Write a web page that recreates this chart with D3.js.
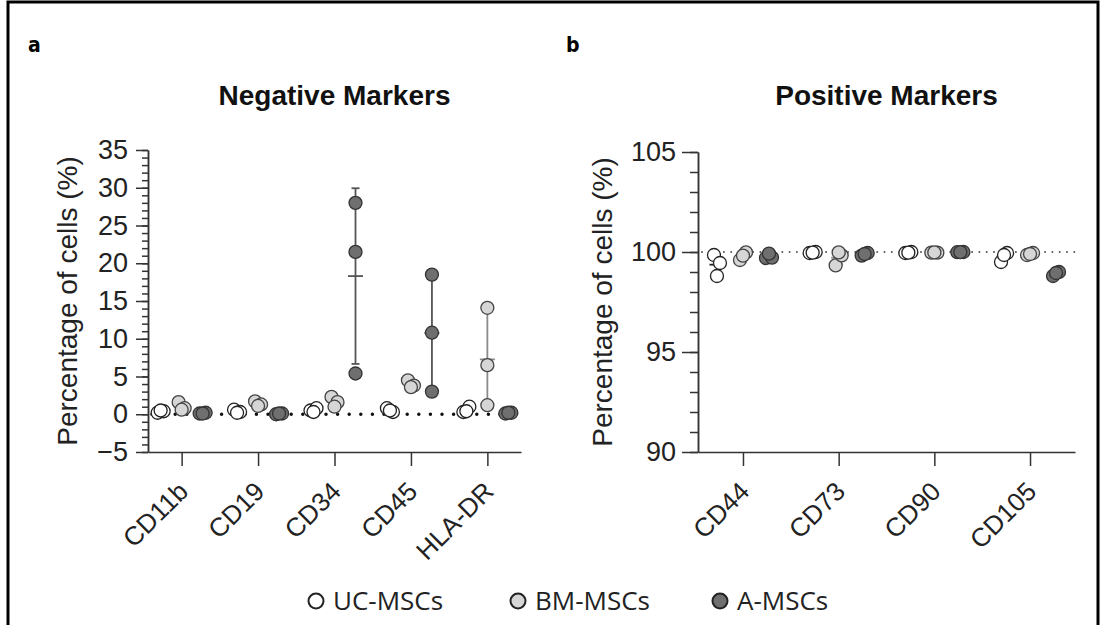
<!DOCTYPE html>
<html>
<head>
<meta charset="utf-8">
<script src="https://cdn.jsdelivr.net/npm/d3@7"></script>
<style>
  body { margin: 0; background: #fff; }
  svg { display: block; }
</style>
</head>
<body>
<script>
const width = 1101,
  height = 625;

// categories
const negMarkers = ['CD11b', 'CD19', 'CD34', 'CD45', 'HLA-DR'];
const posMarkers = ['CD44', 'CD73', 'CD90', 'CD105'];
const groups = ['UC-MSCs', 'BM-MSCs', 'A-MSCs'];

// negative markers, % of cells, 3 donors per group
const negUC = [[0.2, 0.4, 0.5], [0.6, 0.3, 0.2], [0.5, 0.8, 0.3], [0.8, 0.3, 0.5], [0.3, 1.0, 0.4]];
const negBM = [[1.6, 0.8, 0.6], [1.7, 1.3, 1.1], [2.3, 1.6, 1.0], [4.5, 3.8, 3.6], [14.1, 6.5, 1.2]];
const negA = [[0.1, 0.2, 0.1], [0.0, 0.1, 0.1], [28.0, 21.5, 5.4], [18.5, 10.8, 3.0], [0.1, 0.2, 0.2]];

// positive markers, % of cells
const posUC = [[99.85, 99.45, 98.8], [99.95, 100.0, 99.97], [99.95, 100.0, 99.97], [99.5, 99.95, 99.85]];
const posBM = [[99.6, 99.98, 99.82], [99.33, 99.83, 99.98], [99.97, 99.97, 99.98], [99.85, 99.95, 99.9]];
const posA = [[99.7, 99.72, 99.92], [99.82, 99.95, 99.9], [99.99, 100.0, 99.99], [98.8, 99.0, 98.95]];

const negTicks = [-5, 0, 5, 10, 15, 20, 25, 30, 35];
const posTicks = [90, 95, 100, 105];

const fills = ['#ffffff', '#d6d6d6', '#6f6f6f'];
const strokes = ['#222', '#444', '#333'];
const barColors = ['#222', '#8a8a8a', '#555'];
const jitter = [-3, 3, 0];

const svg = d3.select('body').append('svg')
  .attr('width', width)
  .attr('height', height);

// frame
svg.append('path')
  .attr('d', `M8,${height} V2 H1098 V${height}`)
  .attr('fill', 'none')
  .attr('stroke', '#000')
  .attr('stroke-width', 3);

svg.append('text').attr('x', 28).attr('y', 52).text('a')
  .attr('font-family', 'Liberation Sans Narrow, DejaVu Sans Condensed, sans-serif')
  .attr('font-weight', 'bold').attr('font-size', 21);
svg.append('text').attr('x', 566).attr('y', 52).text('b')
  .attr('font-family', 'Liberation Sans Narrow, DejaVu Sans Condensed, sans-serif')
  .attr('font-weight', 'bold').attr('font-size', 21);

function panel(opt) {
  const x = d3.scalePoint()
    .domain(opt.markers)
    .range(opt.xRange)
    .padding(opt.pad);
  const sub = d3.scalePoint()
    .domain(groups)
    .range([-opt.spread, opt.spread]);
  const y = d3.scaleLinear()
    .domain(opt.yDomain)
    .range(opt.yRange);

  const g = svg.append('g');

  g.append('text')
    .attr('x', (opt.xRange[0] + opt.xRange[1]) / 2)
    .attr('y', 105)
    .attr('text-anchor', 'middle')
    .attr('font-family', 'Liberation Sans, Arial, sans-serif')
    .attr('font-weight', 'bold')
    .attr('font-size', 28)
    .attr('fill', '#111')
    .text(opt.title);

  // minor ticks
  g.append('g')
    .attr('transform', `translate(${opt.xRange[0]},0)`)
    .call(d3.axisLeft(y).tickValues(d3.range(opt.yDomain[0], opt.yDomain[1] + 1, 1))
      .tickSize(opt.minor).tickSizeOuter(0).tickFormat(''))
    .call(a => a.selectAll('line,path').attr('stroke', '#333').attr('stroke-width', 1.5));

  // major ticks
  g.append('g')
    .attr('transform', `translate(${opt.xRange[0]},0)`)
    .call(d3.axisLeft(y).tickValues(opt.ticks).tickSize(opt.major).tickSizeOuter(0).tickPadding(opt.tpad))
    .call(a => a.selectAll('line,path').attr('stroke', '#333').attr('stroke-width', 1.5))
    .call(a => a.selectAll('text')
      .attr('font-family', 'Liberation Sans, Arial, sans-serif')
      .attr('font-size', 27)
      .attr('fill', '#222'));

  g.append('text')
    .attr('transform', `translate(${opt.labelX},${(opt.yRange[0] + opt.yRange[1]) / 2}) rotate(-90)`)
    .attr('text-anchor', 'middle')
    .attr('font-family', 'Liberation Sans, Arial, sans-serif')
    .attr('font-size', 28)
    .attr('fill', '#222')
    .text('Percentage of cells (%)');

  // x axis
  g.append('g')
    .attr('transform', `translate(0,${opt.yRange[0]})`)
    .call(d3.axisBottom(x).tickSize(14).tickSizeOuter(0).tickFormat(''))
    .call(a => a.selectAll('line,path').attr('stroke', '#333').attr('stroke-width', 1.5));

  g.selectAll('.xl')
    .data(opt.markers)
    .enter().append('text')
    .attr('transform', d => `translate(${x(d) + 8},${opt.yRange[0] + 41}) rotate(-45)`)
    .attr('text-anchor', 'end')
    .attr('font-family', 'Liberation Sans, Arial, sans-serif')
    .attr('font-size', 26)
    .attr('fill', '#222')
    .text(d => d);

  // reference line
  g.append('line')
    .attr('x1', opt.xRange[0] + 4)
    .attr('x2', opt.xRange[1])
    .attr('y1', y(opt.refValue))
    .attr('y2', y(opt.refValue))
    .attr('stroke', opt.refColor)
    .attr('stroke-width', opt.refWidth)
    .attr('stroke-linecap', 'round')
    .attr('stroke-dasharray', opt.refDash);

  opt.series.forEach((vals, gi) => {
    const grp = groups[gi];
    const stats = vals.map((v, i) => {
      const m = d3.mean(v), s = d3.deviation(v);
      return { cx: x(opt.markers[i]) + sub(grp), m, lo: m - s, hi: m + s };
    });

    const eb = g.append('g')
      .attr('stroke', barColors[gi])
      .attr('stroke-width', 1.8);
    eb.selectAll('.v').data(stats).enter().append('line')
      .attr('x1', d => d.cx).attr('x2', d => d.cx)
      .attr('y1', d => y(d.lo)).attr('y2', d => y(d.hi));
    eb.selectAll('.m').data(stats).enter().append('line')
      .attr('x1', d => d.cx - 7.5).attr('x2', d => d.cx + 7.5)
      .attr('y1', d => y(d.m)).attr('y2', d => y(d.m));
    eb.selectAll('.ch').data(stats).enter().append('line')
      .attr('x1', d => d.cx - 4).attr('x2', d => d.cx + 4)
      .attr('y1', d => y(d.hi)).attr('y2', d => y(d.hi));
    eb.selectAll('.cl').data(stats).enter().append('line')
      .attr('x1', d => d.cx - 4).attr('x2', d => d.cx + 4)
      .attr('y1', d => y(d.lo)).attr('y2', d => y(d.lo));
  });

  opt.series.forEach((vals, gi) => {
    const grp = groups[gi];
    const pts = [];
    vals.forEach((v, i) => v.forEach((val, k) => {
      // spread only points that would sit on top of each other
      const crowded = v.some((o, j) => j !== k && Math.abs(y(o) - y(val)) < 13);
      pts.push({ m: opt.markers[i], val, dx: crowded ? jitter[k] : 0 });
    }));
    g.append('g').selectAll('circle')
      .data(pts)
      .enter().append('circle')
      .attr('cx', d => x(d.m) + sub(grp) + d.dx)
      .attr('cy', d => y(d.val))
      .attr('r', 6.5)
      .attr('fill', fills[gi])
      .attr('stroke', strokes[gi])
      .attr('stroke-width', 1.3);
  });
}

panel({
  title: 'Negative Markers',
  markers: negMarkers,
  series: [negUC, negBM, negA],
  xRange: [148, 521],
  pad: 0.44,
  spread: 21,
  yDomain: [-5, 35],
  yRange: [452, 150],
  ticks: negTicks,
  major: 12,
  minor: 6,
  tpad: 8,
  labelX: 77,
  refValue: 0,
  refColor: '#111',
  refWidth: 3.5,
  refDash: '0,11.6'
});

panel({
  title: 'Positive Markers',
  markers: posMarkers,
  series: [posUC, posBM, posA],
  xRange: [698, 1075],
  pad: 0.47,
  spread: 26,
  yDomain: [90, 105],
  yRange: [452, 152],
  ticks: posTicks,
  major: 16,
  minor: 8,
  tpad: 6,
  labelX: 612,
  refValue: 100,
  refColor: '#555',
  refWidth: 2,
  refDash: '0,7.3'
});

// legend
const legX = [316, 518, 720];
const leg = svg.append('g')
  .selectAll('g')
  .data(groups)
  .enter().append('g')
  .attr('transform', (d, i) => `translate(${legX[i]},601)`);
leg.append('circle')
  .attr('r', 7.5)
  .attr('fill', (d, i) => fills[i])
  .attr('stroke', '#222')
  .attr('stroke-width', 2);
leg.append('text')
  .attr('x', 17)
  .attr('dy', '0.36em')
  .attr('font-family', 'Open Sans, Noto Sans, sans-serif')
  .attr('font-size', 26)
  .attr('fill', '#222')
  .text(d => d);
</script>
</body>
</html>
